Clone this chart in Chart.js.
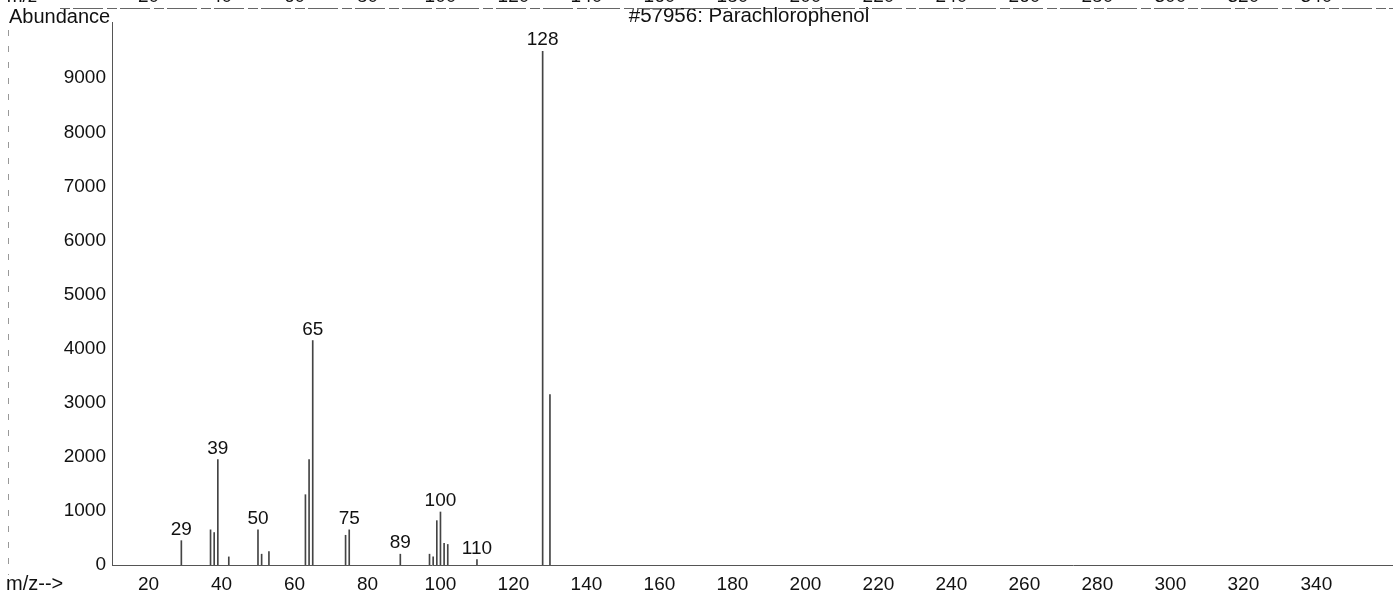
<!DOCTYPE html>
<html>
<head>
<meta charset="utf-8">
<script src="https://cdn.jsdelivr.net/npm/chart.js@4/dist/chart.umd.min.js"></script>
<style>
  html, body { margin: 0; padding: 0; background: #ffffff; }
  #wrap { width: 1393px; height: 596px; position: relative; }
</style>
</head>
<body>
<div id="wrap"><canvas id="c" width="1393" height="596"></canvas></div>
<script>
// ---- data ----
const mzValues = [29, 37, 38, 39, 42, 50, 51, 53, 63, 64, 65, 74, 75, 89, 97, 98, 99, 100, 101, 102, 110, 128, 130];
const abundance = [450, 650, 600, 1950, 150, 650, 200, 250, 1300, 1950, 4150, 550, 650, 200, 200, 150, 820, 980, 400, 380, 100, 9500, 3150];
const peakLabels = [29, 39, 50, 65, 75, 89, 100, 110, 128];
const xTickValues = [20, 40, 60, 80, 100, 120, 140, 160, 180, 200, 220, 240, 260, 280, 300, 320, 340];
const yTickValues = [0, 1000, 2000, 3000, 4000, 5000, 6000, 7000, 8000, 9000];
const titleText = '#57956: Parachlorophenol';
const yAxisName = 'Abundance';
const xAxisName = 'm/z-->';

const FONT = '"Liberation Sans", Arial, Helvetica, sans-serif';

const decor = {
  id: 'decor',
  afterDraw(chart) {
    const ctx = chart.ctx;
    const xs = chart.scales.x, ys = chart.scales.y;
    ctx.save();
    ctx.fillStyle = '#111';
    // titles
    ctx.textBaseline = 'middle';
    ctx.textAlign = 'left';
    ctx.font = '20px ' + FONT;
    ctx.fillText(yAxisName, 9, 17);
    ctx.fillText(xAxisName, 6, 584);
    ctx.textAlign = 'center';
    ctx.font = '20.5px ' + FONT;
    ctx.fillText(titleText, 749, 16);
    // cut-off axis labels of the spectrum above (top strip)
    ctx.font = '19px ' + FONT;
    ctx.fillText('m/z', 22, -3);
    xTickValues.forEach(v => ctx.fillText(String(v), xs.getPixelForValue(v), -3));
    // line of the frame above
    ctx.strokeStyle = '#666';
    ctx.lineWidth = 1;
    ctx.setLineDash([10, 3, 30, 4]);
    ctx.beginPath();
    ctx.moveTo(60, 8.5);
    ctx.lineTo(1393, 8.5);
    ctx.stroke();
    // faint left scan border
    ctx.strokeStyle = '#999';
    ctx.setLineDash([6, 10]);
    ctx.beginPath();
    ctx.moveTo(8.5, 30);
    ctx.lineTo(8.5, 575);
    ctx.stroke();
    ctx.setLineDash([]);
    // peak labels
    ctx.fillStyle = '#111';
    ctx.font = '19px ' + FONT;
    ctx.textBaseline = 'alphabetic';
    peakLabels.forEach(m => {
      const i = mzValues.indexOf(m);
      const px = xs.getPixelForValue(m);
      const py = ys.getPixelForValue(abundance[i]);
      ctx.fillText(String(m), px, py - 6);
    });
    ctx.restore();
  }
};

new Chart(document.getElementById('c'), {
  type: 'bar',
  data: {
    datasets: [{
      data: mzValues.map((m, i) => ({ x: m, y: abundance[i] })),
      backgroundColor: '#444',
      borderWidth: 0,
      barThickness: 1,
      grouped: false
    }]
  },
  options: {
    responsive: false,
    animation: false,
    devicePixelRatio: 1,
    layout: { padding: { top: 22, right: 0, bottom: 0, left: 0 } },
    plugins: { legend: { display: false }, tooltip: { enabled: false } },
    scales: {
      x: {
        type: 'linear',
        offset: false,
        min: 10,
        max: 361,
        afterBuildTicks: s => { s.ticks = xTickValues.map(v => ({ value: v })); },
        afterFit: s => { s.height = 31; },
        grid: { display: false, drawTicks: false, offset: false },
        border: { display: true, color: '#555', width: 1, dash: [8, 3] },
        ticks: { color: '#111', font: { family: FONT, size: 19 }, padding: 8, maxRotation: 0, autoSkip: false }
      },
      y: {
        type: 'linear',
        min: 0,
        max: 10040,
        afterBuildTicks: s => { s.ticks = yTickValues.map(v => ({ value: v })); },
        afterFit: s => { s.width = 112; },
        grid: { display: false, drawTicks: false },
        border: { display: true, color: '#555', width: 1, dash: [6, 4] },
        ticks: { color: '#111', font: { family: FONT, size: 19 }, padding: 6, callback: v => String(v) }
      }
    }
  },
  plugins: [decor]
});
</script>
</body>
</html>
